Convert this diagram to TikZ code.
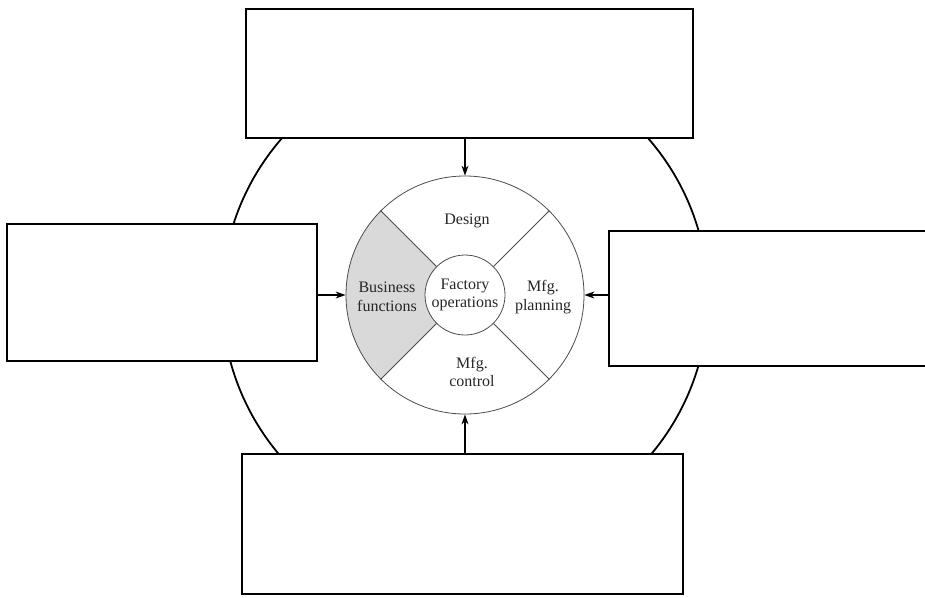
\documentclass[tikz,border=0pt]{standalone}
\usepackage{fontspec}
\setmainfont{Liberation Serif}
\usetikzlibrary{arrows.meta,calc}
\begin{document}
\begin{tikzpicture}[x=1pt,y=-1pt,
  box/.style={draw=black,line width=1.3pt,fill=white,inner sep=0pt},
  thinline/.style={draw=black!70,line width=0.8pt},
  lbl/.style={font=\fontsize{16}{18.5}\selectfont,align=center,text=black!85},
  arr/.style={line width=1.2pt,-{Stealth[length=10pt,width=7pt]}}]
\useasboundingbox (0,0) rectangle (925,597);
\coordinate (c) at (465,295);
% big background circle
\draw[line width=1.8pt] (465,298) circle[radius=243];
% boxes
\node[box,minimum width=447pt,minimum height=129pt] (topbox) at (469.5,73.5) {};
\node[box,minimum width=441pt,minimum height=140pt] (botbox) at (462.5,524) {};
\node[box,minimum width=310pt,minimum height=137pt] (leftbox) at (162,292.5) {};
\node[box,minimum width=317pt,minimum height=135pt] (rightbox) at (767.5,298.5) {};
% shaded sector
\fill[black!15] ($(c)+(135:119)$) arc[start angle=135,end angle=225,radius=119]
  -- ($(c)+(225:40)$) arc[start angle=225,end angle=135,radius=40] -- cycle;
% ring and core
\node[circle,thinline,minimum size=238pt,inner sep=0pt] (ring) at (c) {};
\node[circle,thinline,fill=white,minimum size=80pt,inner sep=0pt,lbl] (core) at (c) {Factory\\operations};
\foreach \a in {45,135,225,315}
  \draw[thinline] (core.\a) -- (ring.\a);
% labels
\node[lbl] (design) at (467,221) {Design};
\node[lbl] (bus) at (387,297) {Business\\functions};
\node[lbl] (plan) at (543,297) {Mfg.\\planning};
\node[lbl] (ctrl) at (472,372) {Mfg.\\control};
% arrows
\draw[arr] (topbox.south -| ring.north) -- (ring.north);
\draw[arr] (botbox.north -| ring.south) -- (ring.south);
\draw[arr] (leftbox.east |- ring.west) -- (ring.west);
\draw[arr] (rightbox.west |- ring.east) -- (ring.east);
\end{tikzpicture}
\end{document}
